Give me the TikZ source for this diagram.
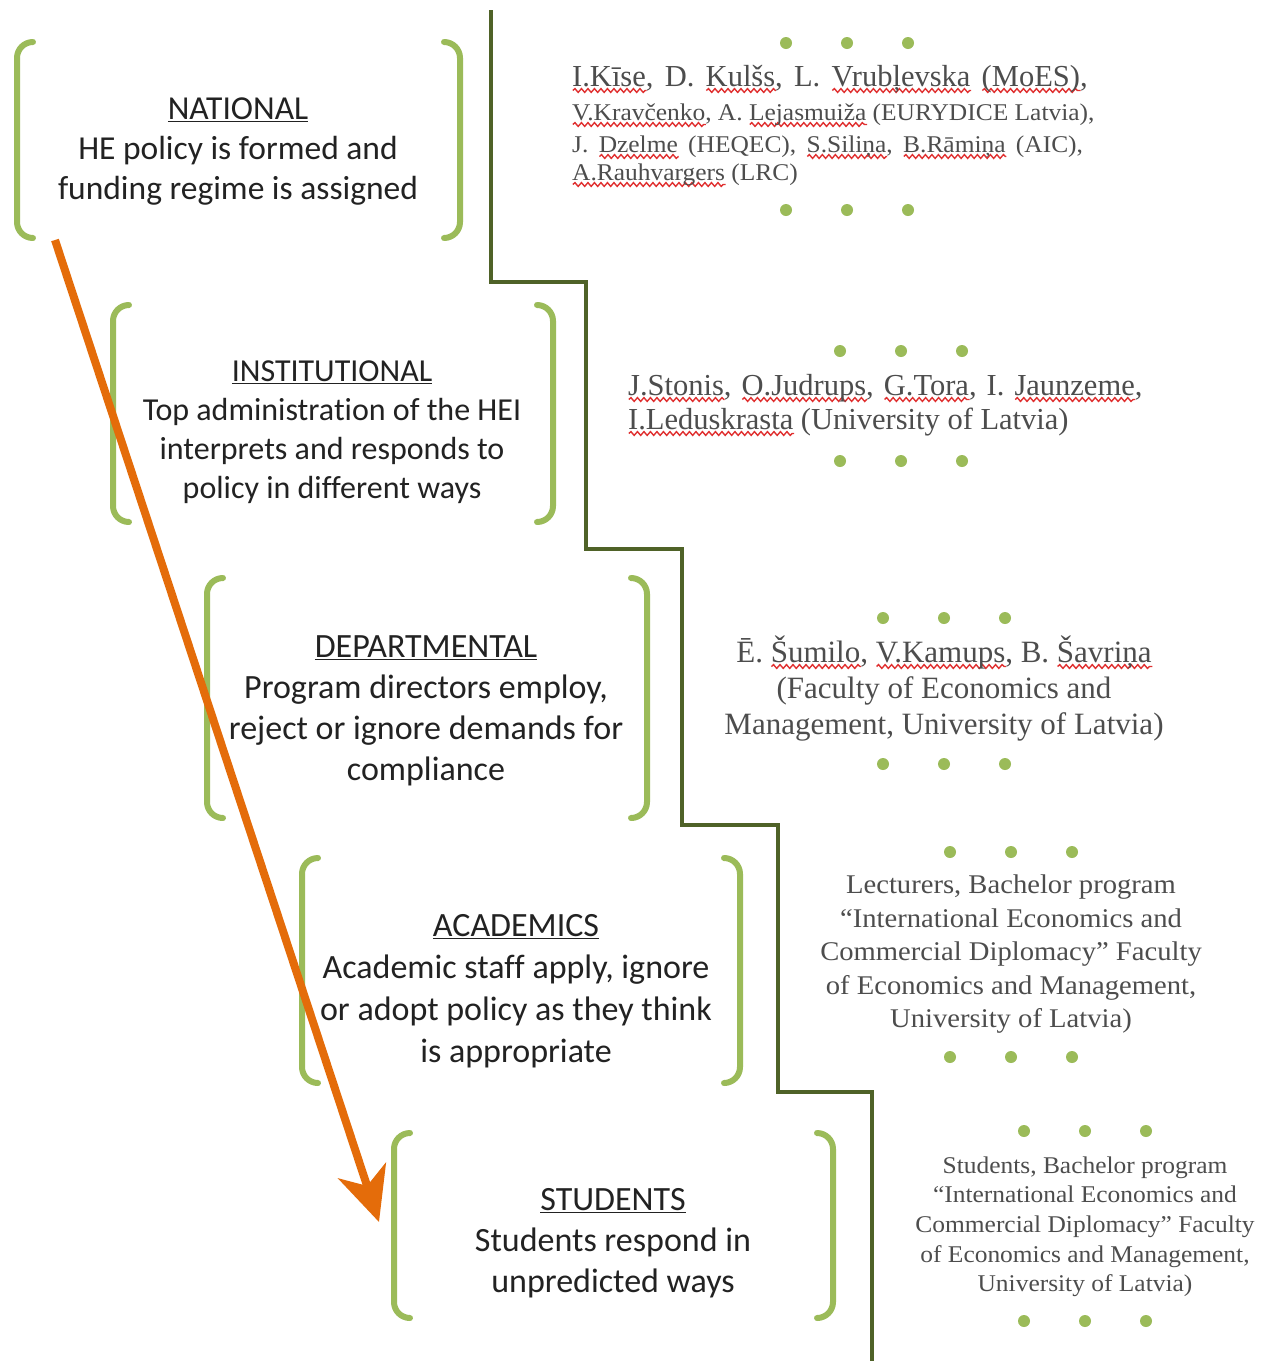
\documentclass[tikz,border=0pt]{standalone}
\usepackage{fontspec}
\setmainfont{Liberation Serif}
\newfontfamily\calibri[Ligatures=NoCommon]{Carlito}
\newfontfamily\wideserif[FakeStretch=1.06]{Liberation Serif}
\usetikzlibrary{arrows.meta,decorations.pathmorphing}

\definecolor{stepgreen}{HTML}{4F6228}
\definecolor{brkgreen}{HTML}{9BBB59}
\definecolor{arroworange}{HTML}{E46C0A}
\definecolor{lefttextcol}{HTML}{222222}
\definecolor{righttextcol}{HTML}{4D4D4D}
\definecolor{spellred}{HTML}{E03030}

% red wavy underline for flagged words
\newsavebox\spellbox
\newcommand\spell[1]{%
  \sbox\spellbox{#1}%
  \pgfmathsetmacro\spellw{\the\wd\spellbox}%
  \rlap{\tikz[baseline=0pt,x=1pt,y=1pt]
    \draw[spellred,line width=1.4pt,decorate,
      decoration={snake,amplitude=1.9pt,segment length=6.5pt}]
      (0,-4.5) -- (\spellw,-4.5);}%
  \usebox\spellbox}

% wider word spacing for justified lines
\newcommand\widespaces[1]{\spaceskip=#1em plus 0.1em\relax}

% pair of rounded square brackets: left x, top y, right x, bottom y
\newcommand\bracketpair[4]{%
  \draw[brk] (#1+16,#2) -- (#1,#2) -- (#1,#4) -- (#1+16,#4);
  \draw[brk] (#3-16,#2) -- (#3,#2) -- (#3,#4) -- (#3-16,#4);}

% three dots centred on x, at height y
\newcommand\dotrow[2]{%
  \foreach \dx in {-61,0,61} \fill[brkgreen] (#1+\dx,#2) circle (6);}

\begin{document}
\begin{tikzpicture}[x=1pt,y=-1pt,
  brk/.style={draw=brkgreen,line width=6pt,rounded corners=16pt,line cap=round},
  stepline/.style={draw=stepgreen,line width=4.5pt},
  levelarrow/.style={draw=arroworange,line width=8pt,
    -{Stealth[length=54pt,width=50pt,inset=16pt]}},
  level/.style={align=center,text=lefttextcol,inner sep=0pt},
  who/.style={text=righttextcol,inner sep=0pt}]

\useasboundingbox (0,0) rectangle (1264,1361);
\fill[white] (0,0) rectangle (1264,1361);

% staircase separator
\draw[stepline] (491,10) -- (491,282) -- (586,282) -- (586,549) -- (682,549)
  -- (682,825) -- (778,825) -- (778,1092) -- (872,1092) -- (872,1361);

% brackets round each level
\bracketpair{17}{42}{460}{238}
\bracketpair{113}{305}{553}{522}
\bracketpair{207}{578}{647}{818}
\bracketpair{302}{858}{740}{1083}
\bracketpair{394}{1133}{833}{1318}

% level descriptions
\node[level,font=\calibri\fontsize{33.5}{40}\selectfont] (national) at (238,152)
  {\underline{NATIONAL}\\HE policy is formed and\\funding regime is assigned};
\node[level,font=\calibri\fontsize{32}{39}\selectfont] (institutional) at (332,432)
  {\underline{INSTITUTIONAL}\\Top administration of the HEI\\interprets and responds to\\policy in different ways};
\node[level,font=\calibri\fontsize{34}{41}\selectfont] (departmental) at (426,711)
  {\underline{DEPARTMENTAL}\\Program directors employ,\\reject or ignore demands for\\compliance};
\node[level,font=\calibri\fontsize{34}{42}\selectfont] (academics) at (516,991)
  {\underline{ACADEMICS}\\Academic staff apply, ignore\\or adopt policy as they think\\is appropriate};
\node[level,font=\calibri\fontsize{34}{41}\selectfont] (students) at (613,1243)
  {\underline{STUDENTS}\\Students respond in\\unpredicted ways};

% dots framing each list of participants
\dotrow{847}{43}   \dotrow{847}{210}
\dotrow{901}{351}  \dotrow{901}{461}
\dotrow{944}{618}  \dotrow{944}{764}
\dotrow{1011}{852} \dotrow{1011}{1057}
\dotrow{1085}{1131} \dotrow{1085}{1321}

% participants, national level
\node[who,anchor=base west,font=\fontsize{30.5}{34}\selectfont] (nat1) at (572,86)
  {\widespaces{0.37}\spell{I.Kīse}, D. \spell{Kulšs}, L. \spell{Vrubļevska} \spell{(MoES)},};
\node[who,anchor=base west,font=\wideserif\fontsize{24}{30}\selectfont] (nat2) at (572,120)
  {\spell{V.Kravčenko}, A. \spell{Lejasmuiža} (EURYDICE Latvia),};
\node[who,anchor=base west,font=\wideserif\fontsize{24}{30}\selectfont] (nat3) at (572,152)
  {\widespaces{0.43}J. \spell{Dzelme} (HEQEC), \spell{S.Siliņa}, \spell{B.Rāmiņa} (AIC),};
\node[who,anchor=base west,font=\wideserif\fontsize{24}{30}\selectfont] (nat4) at (572,180)
  {\spell{A.Rauhvargers} (LRC)};

% participants, institutional level
\node[who,anchor=base west,font=\fontsize{30.5}{34}\selectfont] (inst1) at (628,395)
  {\widespaces{0.33}\spell{J.Stonis}, \spell{O.Judrups}, \spell{G.Tora}, I. \spell{Jaunzeme},};
\node[who,anchor=base west,font=\fontsize{30.5}{34}\selectfont] (inst2) at (628,429)
  {\spell{I.Leduskrasta} (University of Latvia)};

% participants, departmental level
\node[who,anchor=base,font=\fontsize{31}{36}\selectfont] (dep1) at (944,662)
  {Ē. \spell{Šumilo}, \spell{V.Kamups}, B. \spell{Šavriņa}};
\node[who,anchor=base,font=\fontsize{31}{36}\selectfont] (dep2) at (944,698)
  {(Faculty of Economics and};
\node[who,anchor=base,font=\fontsize{31}{36}\selectfont] (dep3) at (944,734)
  {Management, University of Latvia)};

% participants, academic staff
\foreach \txt [count=\i] in {{Lecturers, Bachelor program},
    {“International Economics and},{Commercial Diplomacy” Faculty},
    {of Economics and Management,},{University of Latvia)}}
  \node[who,anchor=base,font=\wideserif\fontsize{27}{33}\selectfont]
    (acad\i) at (1011,860+33.5*\i) {\txt};

% participants, students
\foreach \txt [count=\i] in {{Students, Bachelor program},
    {“International Economics and},{Commercial Diplomacy” Faculty},
    {of Economics and Management,},{University of Latvia)}}
  \node[who,anchor=base,font=\wideserif\fontsize{24}{30}\selectfont]
    (stud\i) at (1085,1143.3+29.7*\i) {\txt};

% top-down flow of policy
\coordinate (flowstart) at (55,240);
\coordinate (flowend) at (379,1222);
\draw[levelarrow] (flowstart) -- (flowend);

\end{tikzpicture}
\end{document}
